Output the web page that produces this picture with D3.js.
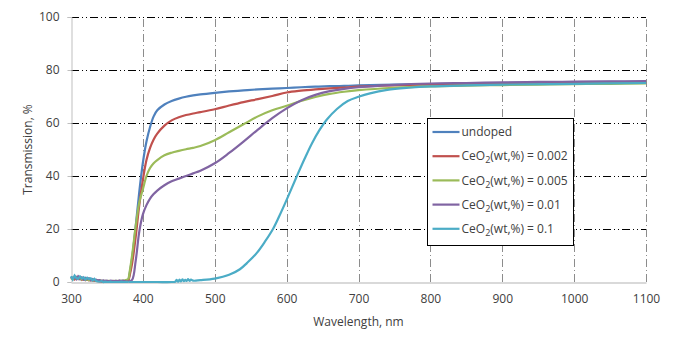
<!DOCTYPE html>
<html>
<head>
<meta charset="utf-8">
<script src="https://cdnjs.cloudflare.com/ajax/libs/d3/7.8.5/d3.min.js"></script>
<style>
  body { margin: 0; background: #fff; }
  svg text { font-family: "Open Sans", "Noto Sans", sans-serif; fill: #404040; }
</style>
</head>
<body>
<div id="chart"></div>
<script>

// noisy floor 300..380 nm (step 2.5)
var wlLow = [300, 302.5, 305, 307.5, 310, 312.5, 315, 317.5, 320, 322.5, 325, 327.5, 330, 332.5, 335, 337.5,
             340, 342.5, 345, 347.5, 350, 352.5, 355, 357.5, 360, 362.5, 365, 367.5, 370, 372.5, 375, 377.5];

// smooth part, nm
var wl = [380, 385, 390, 395, 400, 405, 410, 415, 420, 430, 440, 450, 460, 470, 480, 500, 520, 540, 560, 580,
          600, 620, 640, 660, 680, 700, 750, 800, 850, 900, 950, 1000, 1050, 1100];

var undopedLow = [1.8, 1.2, 2.0, 1.4, 1.6, 1.0, 1.5, 0.9, 1.2, 0.8, 1.0, 0.6, 0.9, 0.5, 0.7, 0.4,
                  0.5, 0.3, 0.4, 0.2, 0.3, 0.2, 0.3, 0.2, 0.2, 0.3, 0.2, 0.3, 0.2, 0.3, 0.4, 0.5];
var undoped = [0.6, 9, 21, 34, 45, 53, 58.5, 62.5, 64.8, 67, 68.3, 69.2, 69.9, 70.4, 70.8, 71.4, 71.9, 72.3, 72.7, 73,
               73.2, 73.5, 73.7, 73.9, 74, 74.2, 74.5, 74.7, 74.9, 75.1, 75.3, 75.4, 75.5, 75.6];

var d002Low = [1.2, 1.6, 1.0, 1.8, 1.1, 1.4, 0.8, 1.2, 0.7, 1.0, 0.6, 0.8, 0.5, 0.6, 0.4, 0.3,
               0.2, 0.1, 0.1, 0.1, 0.1, 0.1, 0.1, 0.1, 0.1, 0.1, 0.1, 0.1, 0.1, 0.2, 0.3, 0.4];
var d002 = [0.5, 7, 17, 29, 38.5, 46, 50.6, 53.8, 56, 59, 61, 62.2, 63, 63.6, 64.1, 65.2, 66.6, 67.9, 69, 70.2,
            71.5, 72.2, 72.7, 73.1, 73.4, 73.7, 74.2, 74.5, 74.7, 74.9, 75.1, 75.2, 75.3, 75.4];

var d005Low = [1.5, 1.0, 1.7, 1.2, 1.4, 1.8, 1.0, 1.3, 0.9, 1.1, 0.7, 1.0, 0.6, 0.8, 0.5, 0.6,
               0.4, 0.5, 0.3, 0.4, 0.3, 0.4, 0.3, 0.3, 0.4, 0.3, 0.4, 0.3, 0.4, 0.5, 0.6, 0.8];
var d005 = [1.0, 10, 21, 30, 35, 40, 43, 44.8, 46, 47.8, 48.8, 49.5, 50.1, 50.6, 51.3, 53.5, 56.5, 59.5, 62.5, 64.8,
            66.5, 68.3, 69.8, 71, 71.8, 72.4, 73.3, 73.8, 74.1, 74.3, 74.5, 74.7, 74.8, 74.9];

var d01Low = [2.0, 1.3, 1.9, 1.1, 2.2, 1.5, 1.8, 1.0, 1.6, 1.2, 1.4, 0.8, 1.1, 0.7, 0.9, 0.6,
              0.7, 0.4, 0.6, 0.4, 0.5, 0.3, 0.5, 0.4, 0.3, 0.5, 0.3, 0.6, 0.4, 0.5, 0.3, 0.2];
var d01 = [0.2, 0.8, 8, 19, 25.5, 29, 31.5, 33.2, 34.5, 36.5, 38, 39, 40, 41, 42, 44.8, 48.7, 53, 57.5, 61.8,
           65.5, 68.5, 70.6, 72, 72.9, 73.5, 74.4, 74.9, 75.1, 75.3, 75.5, 75.6, 75.7, 75.8];

var d1Low = [2.2, 1.0, 2.4, 1.5, 1.2, 2.1, 1.3, 1.8, 0.9, 1.6, 1.1, 1.4, 0.6, 1.2, 0.4, 0.2,
             0.1, 0.3, 0.0, 0.1, 0.0, 0.0, 0.1, 0.0, 0.0, 0.0, 0.0, 0.0, 0.1, 0.0, 0.0, 0.0];
// cyan: its own grid, flat then sigmoid
var wlD1 = [380, 400, 420, 440, 445, 447, 449, 451, 453, 455, 457, 459, 461, 463, 465, 467, 470, 480, 500, 520,
            535, 545, 558, 570, 581, 590, 600, 614, 625, 635, 645, 656, 670, 685, 700, 716, 740, 770, 800, 850,
            900, 1000, 1100];
var d1 = [0, 0, 0, 0, 0.1, 0.8, 0.1, 0.9, 0.2, 1.0, 0.3, 0.8, 0.4, 1.1, 0.4, 0.9, 0.5, 0.7, 1.3, 2.7,
          4.8, 7.2, 10.8, 15.3, 20, 25, 31, 39.8, 46.5, 52.2, 57, 61.3, 65.3, 68.3, 69.9, 71.2, 72.5, 73.3, 73.8, 74.2,
          74.5, 74.8, 75.1];

var names = ['undoped', '0.002', '0.005', '0.01', '0.1'];
var colors = ['#4f81bd', '#c0504d', '#9bbb59', '#8064a2', '#4bacc6'];

var xTicks = [300, 400, 500, 600, 700, 800, 900, 1000, 1100];
var yTicks = [0, 20, 40, 60, 80, 100];

function pairs ( xs, ys ) {
    return xs.map( function ( x, i ) { return [ x, ys[ i ] ]; });
}

var series = [
    { low: pairs( wlLow, undopedLow ), main: pairs( wl, undoped ) },
    { low: pairs( wlLow, d002Low ), main: pairs( wl, d002 ) },
    { low: pairs( wlLow, d005Low ), main: pairs( wl, d005 ) },
    { low: pairs( wlLow, d01Low ), main: pairs( wl, d01 ) },
    { low: pairs( wlLow, d1Low ), main: pairs( wlD1, d1 ) }
];

var width = 677,
    height = 351,
    margin = { left: 71, right: 31, top: 17, bottom: 69 };

var svg = d3.select('#chart').append('svg')
    .attr('width', width)
    .attr('height', height);

var x = d3.scaleLinear()
    .domain([ 300, 1100 ])
    .range([ margin.left, width - margin.right ]);

var y = d3.scaleLinear()
    .domain([ 0, 100 ])
    .range([ height - margin.bottom, margin.top ]);

// grid
svg.append('g').selectAll('line')
    .data( xTicks.slice( 1 ) )
    .enter().append('line')
    .attr('x1', function ( d ) { return Math.round( x( d ) ) + 0.5; })
    .attr('x2', function ( d ) { return Math.round( x( d ) ) + 0.5; })
    .attr('y1', y( 0 ))
    .attr('y2', y( 100 ))
    .style('stroke', '#8c8c8c')
    .style('stroke-width', 1)
    .style('stroke-dasharray', '8,3,1,3');

svg.append('g').selectAll('line')
    .data( yTicks.slice( 1 ) )
    .enter().append('line')
    .attr('x1', x( 300 ))
    .attr('x2', x( 1100 ))
    .attr('y1', function ( d ) { return Math.round( y( d ) ) + 0.5; })
    .attr('y2', function ( d ) { return Math.round( y( d ) ) + 0.5; })
    .style('stroke', '#000')
    .style('stroke-width', 1)
    .style('stroke-dasharray', '8,3,1,3,1,3');

// axes
var yAxis = d3.axisLeft( y ).tickValues( yTicks ).tickSize( 4 ).tickPadding( 8 );
var gy = svg.append('g')
    .attr('transform', 'translate(' + ( x( 300 ) + 0.5 ) + ',0)')
    .call( yAxis );
gy.select('.domain').style('stroke', '#bfbfbf');
gy.selectAll('.tick line').style('stroke', '#bfbfbf');
gy.selectAll('.tick text').style('font-size', '12px').style('fill', '#404040');

var xAxis = d3.axisBottom( x ).tickValues( xTicks ).tickFormat( d3.format('d') ).tickSize( 0 ).tickPadding( 12 );
var gx = svg.append('g')
    .attr('transform', 'translate(0,' + ( y( 0 ) + 0.5 ) + ')')
    .call( xAxis );
gx.select('.domain').style('stroke', '#d9d9d9').style('stroke-width', 2);
gx.selectAll('.tick text').style('font-size', '12px').style('fill', '#404040');

// lines
var line = d3.line()
    .x( function ( d ) { return x( d[ 0 ] ); })
    .y( function ( d ) { return y( d[ 1 ] ); });

var smooth = d3.line()
    .curve( d3.curveCatmullRom.alpha( 0.5 ) )
    .x( function ( d ) { return x( d[ 0 ] ); })
    .y( function ( d ) { return y( d[ 1 ] ); });

series.forEach( function ( s, i ) {

    svg.append('path')
        .attr('d', line( s.low.concat([ s.main[ 0 ] ]) ))
        .style('fill', 'none')
        .style('stroke', colors[ i ])
        .style('stroke-width', 2.2);

    svg.append('path')
        .attr('d', smooth( s.main ))
        .style('fill', 'none')
        .style('stroke', colors[ i ])
        .style('stroke-width', 2.2);

});

// axis titles
svg.append('text')
    .attr('x', ( x( 300 ) + x( 1100 ) ) / 2)
    .attr('y', 326)
    .attr('text-anchor', 'middle')
    .style('font-size', '12px')
    .text('Wavelength, nm');

svg.append('text')
    .attr('transform', 'translate(32,' + y( 50 ) + ') rotate(-90)')
    .attr('text-anchor', 'middle')
    .style('font-size', '12px')
    .text('Transmission, %');

// legend
var legend = svg.append('g')
    .attr('transform', 'translate(427.5,118.5)');

legend.append('rect')
    .attr('width', 146)
    .attr('height', 127)
    .style('fill', '#fff')
    .style('stroke', '#000')
    .style('stroke-width', 1);

var item = legend.selectAll('.item')
    .data( names )
    .enter().append('g')
    .attr('class', 'item')
    .attr('transform', function ( d, i ) { return 'translate(0,' + ( 13.5 + i * 24.2 ) + ')'; });

item.append('line')
    .attr('x1', 5)
    .attr('x2', 32)
    .style('stroke', function ( d, i ) { return colors[ i ]; })
    .style('stroke-width', 2.2);

var label = item.append('text')
    .attr('x', 34)
    .attr('dy', '0.35em')
    .style('font-size', '12px');

label.each( function ( d, i ) {
    var t = d3.select( this );
    if ( i === 0 ) {
        t.text( d );
        return;
    }
    t.append('tspan').text('CeO');
    t.append('tspan').attr('dy', 3).style('font-size', '9px').text('2');
    t.append('tspan').attr('dy', -3).text('(wt,%) = ' + d);
});

</script>
</body>
</html>
